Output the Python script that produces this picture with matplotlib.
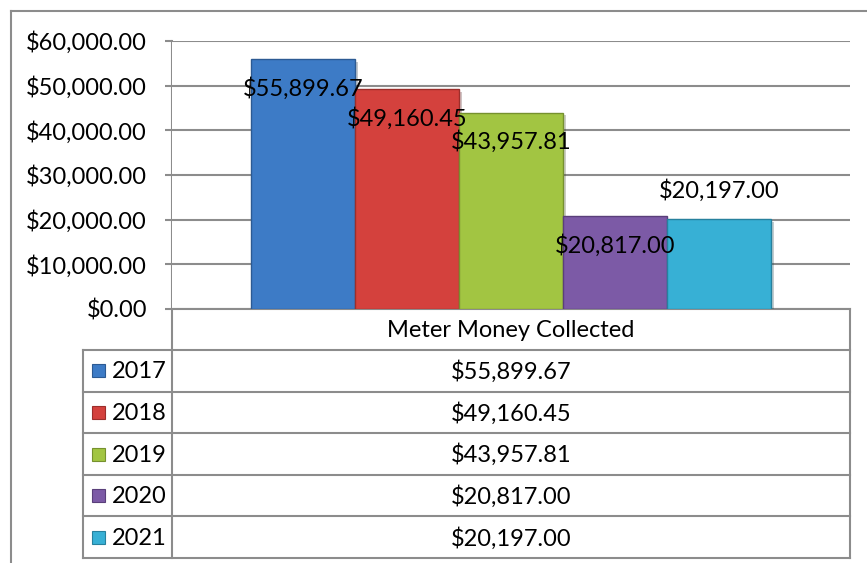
# Meter money collected by year: Excel-style column chart with data table
import matplotlib.pyplot as plt
import matplotlib.patheffects as pe
from matplotlib.lines import Line2D
from matplotlib.patches import Rectangle

# data
years = ['2017', '2018', '2019', '2020', '2021']
collected = [55899.67, 49160.45, 43957.81, 20817.00, 20197.00]
category = 'Meter Money Collected'
yticks = [0, 10000, 20000, 30000, 40000, 50000, 60000]

# style
colors = ['#3D7BC6', '#D4413D', '#A2C542', '#7C5AA6', '#37B0D5']
edges = ['#2C5A93', '#9C2E2B', '#76912E', '#5A3F7A', '#26819E']
label_dy = [-21, -21, -21, -21, 20]   # Excel put the last label above its bar
grid_col = '#8C8C8C'
fs = 17

plt.rcParams['font.family'] = ['Lato', 'DejaVu Sans']

W, H = 867, 563
fig = plt.figure(figsize=(W / 100, H / 100), dpi=100)


def box(x0, y0, x1, y1):
    # pixel box with top-left origin -> figure fraction rect
    return [x0 / W, 1 - y1 / H, (x1 - x0) / W, (y1 - y0) / H]


# chart area
ax = fig.add_axes(box(172, 41, 850, 309))
bw = 0.1534
n = len(years)
for i, (yr, val) in enumerate(zip(years, collected)):
    x = (i - (n - 1) / 2) * bw
    b = ax.bar(x, val, width=bw, color=colors[i], edgecolor=edges[i],
               linewidth=1.0, zorder=3)
    b[0].set_path_effects([pe.SimplePatchShadow(offset=(2, -2), alpha=0.25),
                           pe.Normal()])
    ax.annotate(f'${val:,.2f}', (x, val), xytext=(0, label_dy[i]),
                textcoords='offset points', ha='center', va='center',
                fontsize=fs, color='black', zorder=5)

ax.set_xlim(-0.5, 0.5)
ax.set_ylim(0, 60000)
ax.set_yticks(yticks)
ax.set_yticklabels([f'${v:,.2f}' for v in yticks])
ax.set_xticks([])
ax.yaxis.grid(True, color=grid_col, linewidth=1.5, zorder=0)
ax.tick_params(axis='y', length=5, width=1.5, color=grid_col, pad=13,
               labelsize=fs)
for s in ['top', 'right', 'left']:
    ax.spines[s].set_visible(False)
ax.spines['bottom'].set_color(grid_col)
ax.spines['bottom'].set_linewidth(1.5)
ax.set_axisbelow(True)

# data table below the chart, in pixel coordinates
tb = fig.add_axes([0, 0, 1, 1], zorder=-1)
tb.set_xlim(0, W)
tb.set_ylim(H, 0)
tb.axis('off')
top, head, bot = 309, 350, 558
left, mid, right = 83, 172, 850
rh = (bot - head) / n

lk = dict(color=grid_col, linewidth=1.5)
tb.add_line(Line2D([mid, mid], [41, bot], **lk))
tb.add_line(Line2D([right, right], [top, bot], **lk))
tb.add_line(Line2D([left, left], [head, bot], **lk))
for k in range(n + 1):
    y = head + k * rh
    tb.add_line(Line2D([left, right], [y, y], **lk))

tb.text((mid + right) / 2, (top + head) / 2 + 1, category, ha='center',
        va='center', fontsize=fs)
for i, (yr, val) in enumerate(zip(years, collected)):
    yc = head + (i + 0.5) * rh
    tb.add_patch(Rectangle((92, yc - 6.5), 13, 13, facecolor=colors[i],
                           edgecolor=edges[i], linewidth=0.8))
    tb.text(112, yc + 1, yr, ha='left', va='center', fontsize=fs)
    tb.text((mid + right) / 2, yc + 1, f'${val:,.2f}', ha='center',
            va='center', fontsize=fs)

# outer chart border
tb.add_line(Line2D([11, W], [11, 11], **lk))
tb.add_line(Line2D([11, 11], [11, H], **lk))

fig.savefig('out.png', dpi=100, facecolor='white')
